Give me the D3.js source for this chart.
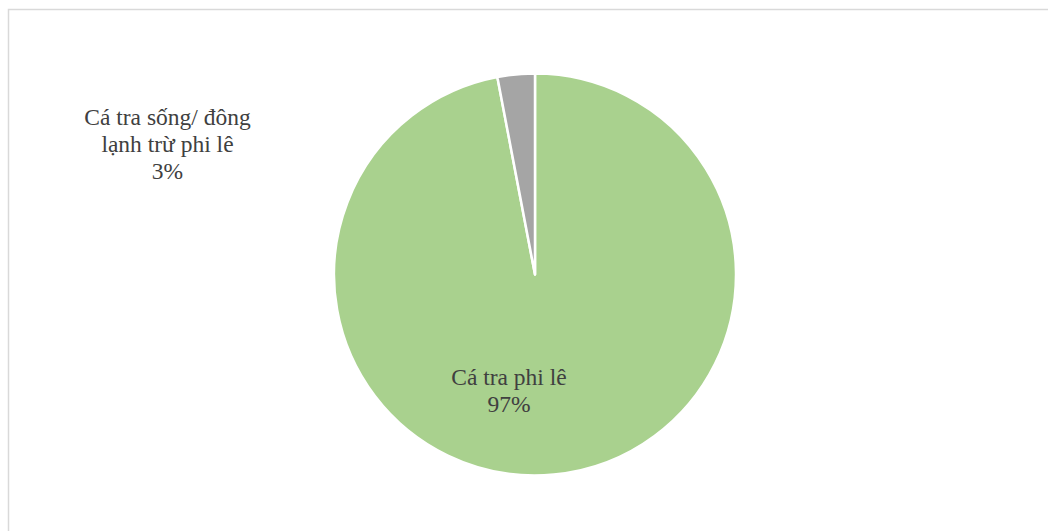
<!DOCTYPE html>
<html>
<head>
<meta charset="utf-8">
<script src="https://cdn.jsdelivr.net/npm/d3@7"></script>
<style>
  html, body { margin: 0; padding: 0; background: #fff; }
  svg { display: block; }
  .lbl { font-family: 'Liberation Serif', 'DejaVu Serif', serif; font-size: 23.5px; fill: #404040; }
</style>
</head>
<body>
<svg id="chart"></svg>
<script>
// Pie chart: Cá tra export structure
const categories = ['Cá tra phi lê', 'Cá tra sống/ đông lạnh trừ phi lê'];
const values = [97, 3];
const labelLines = [['Cá tra phi lê', '97%'], ['Cá tra sống/ đông', 'lạnh trừ phi lê', '3%']];
const colors = ['#A9D18E', '#A5A5A5'];

const width = 1048, height = 531;
const cx = 535, cy = 274.5, radius = 201;

const svg = d3.select('#chart').attr('width', width).attr('height', height);

// chart frame
svg.append('rect')
    .attr('x', 8.5).attr('y', 9.5)
    .attr('width', 1100).attr('height', 600)
    .attr('fill', 'none')
    .attr('stroke', '#d9d9d9')
    .attr('stroke-width', 1.5);

const pie = d3.pie().sort(null).value(d => d);
const arcs = pie(values);
const arc = d3.arc().innerRadius(0).outerRadius(radius);

const g = svg.append('g').attr('transform', `translate(${cx},${cy})`);

g.selectAll('path')
    .data(arcs)
    .enter().append('path')
    .attr('d', arc)
    .attr('fill', (d, i) => colors[i])
    .attr('stroke', '#fff')
    .attr('stroke-width', 2.5)
    .attr('stroke-linejoin', 'round');

// label positions (px, relative to page)
const labelPos = [[509, 385], [167.5, 125]];
const lineH = 27;

labelLines.forEach((lines, i) => {
    const t = svg.append('text')
        .attr('class', 'lbl')
        .attr('x', labelPos[i][0])
        .attr('y', labelPos[i][1])
        .attr('text-anchor', 'middle');
    lines.forEach((s, j) => {
        t.append('tspan')
            .attr('x', labelPos[i][0])
            .attr('dy', j === 0 ? 0 : lineH)
            .text(s);
    });
});
</script>
</body>
</html>
